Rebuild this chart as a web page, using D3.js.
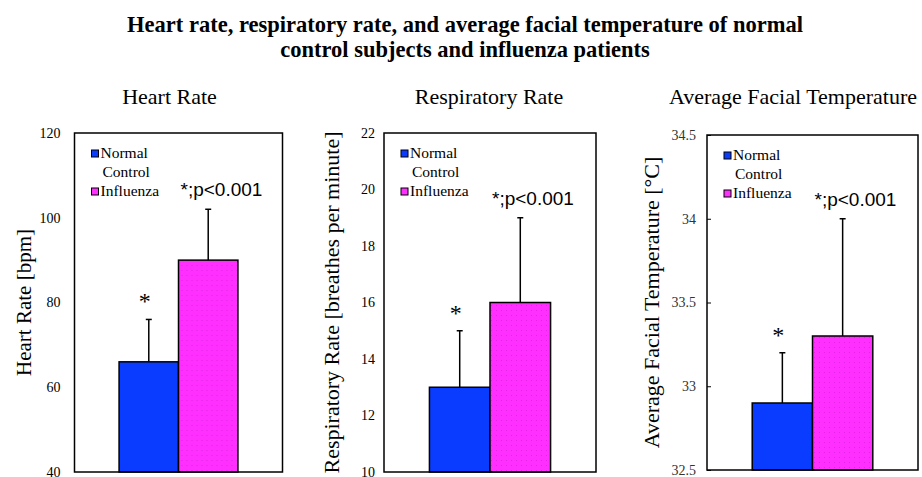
<!DOCTYPE html>
<html>
<head>
<meta charset="utf-8">
<style>
  body { margin: 0; background: #fff; }
  svg { display: block; }
</style>
</head>
<body>
<div id="chart"></div>
<script src="https://cdn.jsdelivr.net/npm/d3@7"></script>
<script>
  // data
  const groups = ['Normal Control', 'Influenza'];
  const legendLines = [['Normal', 'Control'], ['Influenza']];
  const titleLines = [
    'Heart rate, respiratory rate, and average facial temperature of normal',
    'control subjects and influenza patients',
  ];
  const panelTitles = ['Heart Rate', 'Respiratory Rate', 'Average Facial Temperature'];
  const axisTitles = ['Heart Rate [bpm]', 'Respiratory Rate [breathes per minute]', 'Average Facial Temperature [°C]'];
  const heartRate = [66, 90];
  const heartRateSD = [10, 12];
  const respRate = [13, 16];
  const respRateSD = [2, 3];
  const faceTemp = [32.9, 33.3];
  const faceTempSD = [0.3, 0.7];
  const yDomains = [[40, 120], [10, 22], [32.5, 34.5]];
  const yTicks = [
    [40, 60, 80, 100, 120],
    [10, 12, 14, 16, 18, 20, 22],
    [32.5, 33, 33.5, 34, 34.5],
  ];
  const sigLabel = '*;p<0.001';

  const colors = ['#0a3cff', '#ff30ff'];
  const serif = 'Liberation Serif, Times New Roman, serif';
  const sans = 'Liberation Sans, Arial, sans-serif';

  // layout of the three plot boxes
  const panels = [
    { x0: 74.5, x1: 282.5, y0: 133, y1: 472, titleX: 169.5, axisX: 31, axisSize: 21, tickPad: 14, tick: 0, means: heartRate, sd: heartRateSD },
    { x0: 384, x1: 596, y0: 133, y1: 472, titleX: 489, axisX: 339, axisSize: 22, tickPad: 9, tick: 0, means: respRate, sd: respRateSD },
    { x0: 707, x1: 918, y0: 135, y1: 470, titleX: 793, axisX: 659, axisSize: 22, tickPad: 7, tick: 4, means: faceTemp, sd: faceTempSD },
  ];

  const width = 922, height = 477;
  const svg = d3.select('#chart').append('svg')
    .attr('width', width)
    .attr('height', height);

  // faint dots on the pink bars
  const pat = svg.append('defs').append('pattern')
    .attr('id', 'dots')
    .attr('width', 5).attr('height', 5)
    .attr('patternUnits', 'userSpaceOnUse');
  pat.append('rect').attr('width', 5).attr('height', 5).attr('fill', colors[1]);
  pat.append('circle').attr('cx', 2.5).attr('cy', 2.5).attr('r', 0.6).attr('fill', '#e020e0');

  svg.append('g').selectAll('text')
    .data(titleLines)
    .enter()
    .append('text')
    .attr('x', 465)
    .attr('y', (d, i) => 31.5 + i * 25.5)
    .attr('text-anchor', 'middle')
    .style('font-family', serif)
    .style('font-weight', 'bold')
    .style('font-size', '22.5px')
    .text((d) => d);

  panels.forEach((p, k) => {
    const w = p.x1 - p.x0, h = p.y1 - p.y0;
    const g = svg.append('g').attr('transform', 'translate(' + p.x0 + ',' + p.y0 + ')');

    const x = d3.scaleBand().domain(groups).range([0, w]).paddingInner(0).paddingOuter(0.75);
    const y = d3.scaleLinear().domain(yDomains[k]).range([h, 0]);

    const rows = groups.map((name, i) => ({ name: name, mean: p.means[i], sd: p.sd[i] }));

    // error bars (drawn first so bar tops cover them)
    const err = g.append('g').selectAll('g').data(rows).enter().append('g');
    err.append('line')
      .attr('x1', (d) => x(d.name) + x.bandwidth() / 2)
      .attr('x2', (d) => x(d.name) + x.bandwidth() / 2)
      .attr('y1', (d) => y(d.mean))
      .attr('y2', (d) => y(d.mean + d.sd))
      .attr('stroke', '#000')
      .attr('stroke-width', 1.5);
    err.append('line')
      .attr('x1', (d) => x(d.name) + x.bandwidth() / 2 - 3)
      .attr('x2', (d) => x(d.name) + x.bandwidth() / 2 + 3)
      .attr('y1', (d) => y(d.mean + d.sd))
      .attr('y2', (d) => y(d.mean + d.sd))
      .attr('stroke', '#000')
      .attr('stroke-width', 1.5);

    g.append('g').selectAll('rect')
      .data(rows)
      .enter()
      .append('rect')
      .attr('x', (d) => x(d.name))
      .attr('y', (d) => y(d.mean))
      .attr('width', x.bandwidth())
      .attr('height', (d) => h - y(d.mean))
      .attr('fill', (d, i) => (i === 1 ? 'url(#dots)' : colors[0]))
      .attr('stroke', '#000')
      .attr('stroke-width', 1.5);

    // significance marks
    g.append('text')
      .attr('x', x(groups[0]) + x.bandwidth() / 2 - 4)
      .attr('y', y(rows[0].mean + rows[0].sd) - 10)
      .attr('text-anchor', 'middle')
      .style('font-family', serif)
      .style('font-size', '24px')
      .text('*');
    g.append('text')
      .attr('x', x(groups[1]) + 2)
      .attr('y', y(rows[1].mean + rows[1].sd) - 13)
      .style('font-family', sans)
      .style('font-size', '19px')
      .text(sigLabel);

    // y axis
    const yAxis = d3.axisLeft(y)
      .tickValues(yTicks[k])
      .tickFormat((d) => String(d))
      .tickSize(-p.tick)
      .tickPadding(p.tickPad + p.tick);
    const ax = g.append('g').call(yAxis);
    ax.attr('font-family', null).attr('font-size', null);
    ax.select('.domain').remove();
    ax.selectAll('.tick line').attr('stroke', '#000');
    ax.selectAll('.tick text')
      .style('font-family', serif)
      .style('font-size', '14px')
      .attr('fill', k === 2 ? '#333' : '#000');

    // plot frame
    g.append('rect')
      .attr('width', w)
      .attr('height', h)
      .attr('fill', 'none')
      .attr('stroke', '#000')
      .attr('stroke-width', 1.5);

    // legend
    const leg = g.append('g').attr('transform', 'translate(17,17)');
    legendLines.forEach((lines, i) => {
      const top = i * 38;
      leg.append('rect')
        .attr('x', 0)
        .attr('y', top)
        .attr('width', 7)
        .attr('height', 7)
        .attr('fill', colors[i])
        .attr('stroke', '#000')
        .attr('stroke-width', 1);
      lines.forEach((t, j) => {
        leg.append('text')
          .attr('x', j === 0 ? 9 : 11)
          .attr('y', top + 8 + j * 19)
          .style('font-family', serif)
          .style('font-size', '15.5px')
          .text(t);
      });
    });

    svg.append('text')
      .attr('x', p.titleX)
      .attr('y', 103.5)
      .attr('text-anchor', 'middle')
      .style('font-family', serif)
      .style('font-size', '22px')
      .text(panelTitles[k]);

    svg.append('text')
      .attr('transform', 'translate(' + p.axisX + ',' + (p.y0 + h / 2) + ') rotate(-90)')
      .attr('text-anchor', 'middle')
      .style('font-family', serif)
      .style('font-size', p.axisSize + 'px')
      .text(axisTitles[k]);
  });
</script>
</body>
</html>
